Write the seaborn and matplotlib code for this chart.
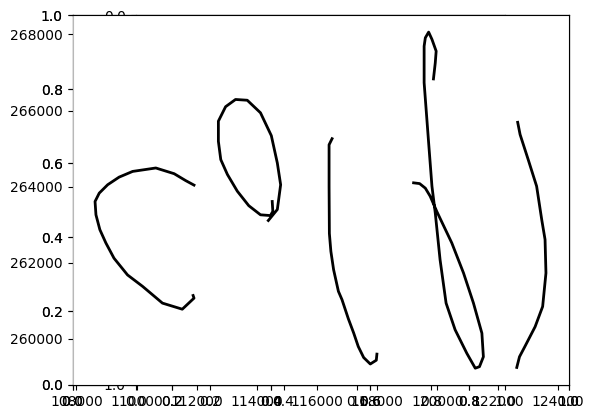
import matplotlib
matplotlib.use("Agg")
import matplotlib.pyplot as plt
import seaborn as sns
import numpy as np

# pen strokes, in map units (x, y)
stroke_c_x = [111910, 111630, 111250, 110640, 109870, 109420, 109040, 108760, 108620, 108650,
              108780, 108980, 109250, 109700, 110200, 110860, 111520, 111910, 111880]
stroke_c_y = [264040, 264160, 264340, 264490, 264400, 264250, 264050, 263830, 263610, 263260,
              262870, 262520, 262120, 261680, 261380, 260940, 260780, 261070, 261140]

stroke_o_x = [114510, 114530, 114450, 114120, 113730, 113350, 113020, 112800, 112720, 112720,
              112960, 113290, 113680, 114120, 114480, 114680, 114790, 114680, 114380]
stroke_o_y = [263610, 263350, 263240, 263260, 263500, 263880, 264320, 264710, 265190, 265720,
              266100, 266290, 266270, 265940, 265340, 264620, 264050, 263400, 263110]

stroke_l_x = [116500, 116400, 116400, 116410, 116460, 116550, 116710, 116830, 117040, 117220,
              117370, 117550, 117770, 117970, 117990]
stroke_l_y = [265260, 265100, 264010, 262770, 262300, 261820, 261250, 261030, 260530, 260150,
              259800, 259510, 259340, 259440, 259600]

stroke_d_x = [119870, 119930, 119960, 119820, 119710, 119600, 119560, 119560, 119710, 119820,
              119930, 120090, 120290, 120590, 120980, 121260, 121400, 121530, 121480, 121200,
              120870, 120480, 119980, 119760, 119600, 119410, 119210]
stroke_d_y = [266830, 267250, 267560, 267870, 268060, 267910, 267690, 266730, 265150, 264010,
              263310, 262080, 260940, 260240, 259620, 259230, 259270, 259530, 260150, 260940,
              261730, 262520, 263350, 263750, 263960, 264080, 264100]

stroke_r_x = [122670, 122750, 123020, 123300, 123470, 123580, 123610, 123500, 123250, 122910,
              122730, 122640]
stroke_r_y = [265690, 265370, 264710, 264010, 263130, 262610, 261730, 260850, 260320, 259800,
              259530, 259250]

strokes = [(stroke_c_x, stroke_c_y), (stroke_o_x, stroke_o_y), (stroke_l_x, stroke_l_y),
           (stroke_d_x, stroke_d_y), (stroke_r_x, stroke_r_y)]

unit_ticks = [0.0, 0.2, 0.4, 0.6, 0.8, 1.0]

fig = plt.figure(figsize=(5.93, 4.18), dpi=100)
rect = [72.5 / 593, 33 / 418, 496 / 593, 369.7 / 418]

# leftover empty axes underneath (two on top of each other)
for i in range(2):
    a = fig.add_axes(rect, label="blank%d" % i)
    a.set_xlim(0, 1)
    a.set_ylim(0, 1)
    a.set_xticks(unit_ticks)
    a.set_yticks(unit_ticks)

# square image-style axes, y flipped
sq = fig.add_axes(rect, label="square")
sq.set_xlim(0, 1)
sq.set_ylim(1, 0)
sq.set_aspect("equal", adjustable="box")
sq.set_xticks(unit_ticks)
sq.set_yticks(unit_ticks)

ax = fig.add_axes(rect, label="data")
ax.set_facecolor("white")
for sx, sy in strokes:
    sns.lineplot(x=sx, y=sy, sort=False, estimator=None, color="black", lw=2, ax=ax)
ax.spines["left"].set_color("0.72")

fig.savefig("out.png", dpi=100)
